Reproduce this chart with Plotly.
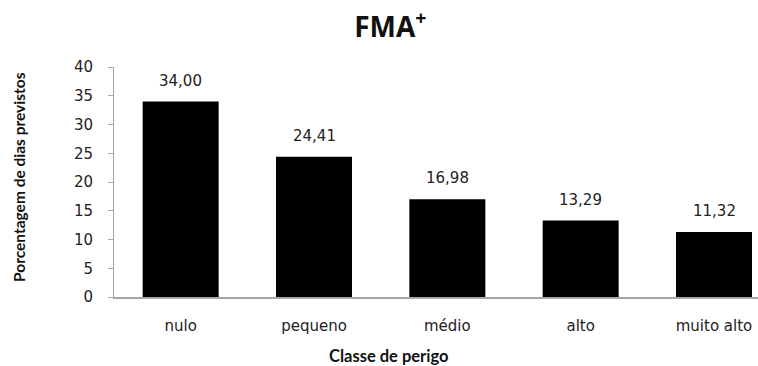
import plotly.graph_objects as go

categories = ["nulo", "pequeno", "médio", "alto", "muito alto"]
values = [34.00, 24.41, 16.98, 13.29, 11.32]
labels = [f"{v:.2f}".replace(".", ",") for v in values]
y_ticks = [0, 5, 10, 15, 20, 25, 30, 35, 40]

tick_font = dict(family="DejaVu Sans, Verdana, sans-serif", size=15, color="#222222")
bold_font = "Liberation Sans Narrow, Lato, Open Sans, sans-serif"

fig = go.Figure()
fig.add_trace(go.Bar(
    x=categories, y=values, width=0.57,
    marker=dict(color="#000000", line=dict(width=0)),
    hoverinfo="skip",
))

for c, v, t in zip(categories, values, labels):
    fig.add_annotation(x=c, y=v, text=t, showarrow=False, yanchor="bottom",
                       yshift=10, font=dict(family="DejaVu Sans, sans-serif", size=15, color="#222222"))

# axis titles placed as annotations (positions relative to paper)
fig.add_annotation(xref="paper", yref="paper", x=(388 - 114) / 644, y=-(356 - 297) / 230,
                   text="<b>Classe de perigo</b>", showarrow=False,
                   xanchor="center", yanchor="middle",
                   font=dict(family="Lato, Open Sans, sans-serif", size=16.5, color="#111111"))
fig.add_annotation(xref="paper", yref="paper", x=-(114 - 19) / 644, y=(297 - 177) / 230,
                   text="<b>Porcentagem de dias previstos</b>", showarrow=False, textangle=-90,
                   xanchor="center", yanchor="middle",
                   font=dict(family=bold_font, size=15.5, color="#111111"))

fig.update_layout(
    width=758, height=366,
    margin=dict(l=114, r=0, t=67, b=69),
    paper_bgcolor="white", plot_bgcolor="white",
    showlegend=False,
    title=dict(text="<b>FMA<sup>+</sup></b>", x=0.515, xanchor="center", y=0.925, yanchor="middle",
               font=dict(family="Open Sans, sans-serif", size=28, color="#111111")),
    xaxis=dict(type="category", range=[-0.5, 4.33], showline=True, linecolor="#a6a6a6",
               linewidth=1.5, ticks="", tickfont=tick_font, ticklabelstandoff=14,
               showgrid=False, zeroline=False),
    yaxis=dict(range=[0, 40], tickvals=y_ticks, showline=True, linecolor="#a6a6a6",
               linewidth=1, ticks="outside", ticklen=5, tickcolor="#a6a6a6",
               tickfont=tick_font, ticklabelstandoff=12, showgrid=False, zeroline=False),
)

fig.write_html("out.html")
